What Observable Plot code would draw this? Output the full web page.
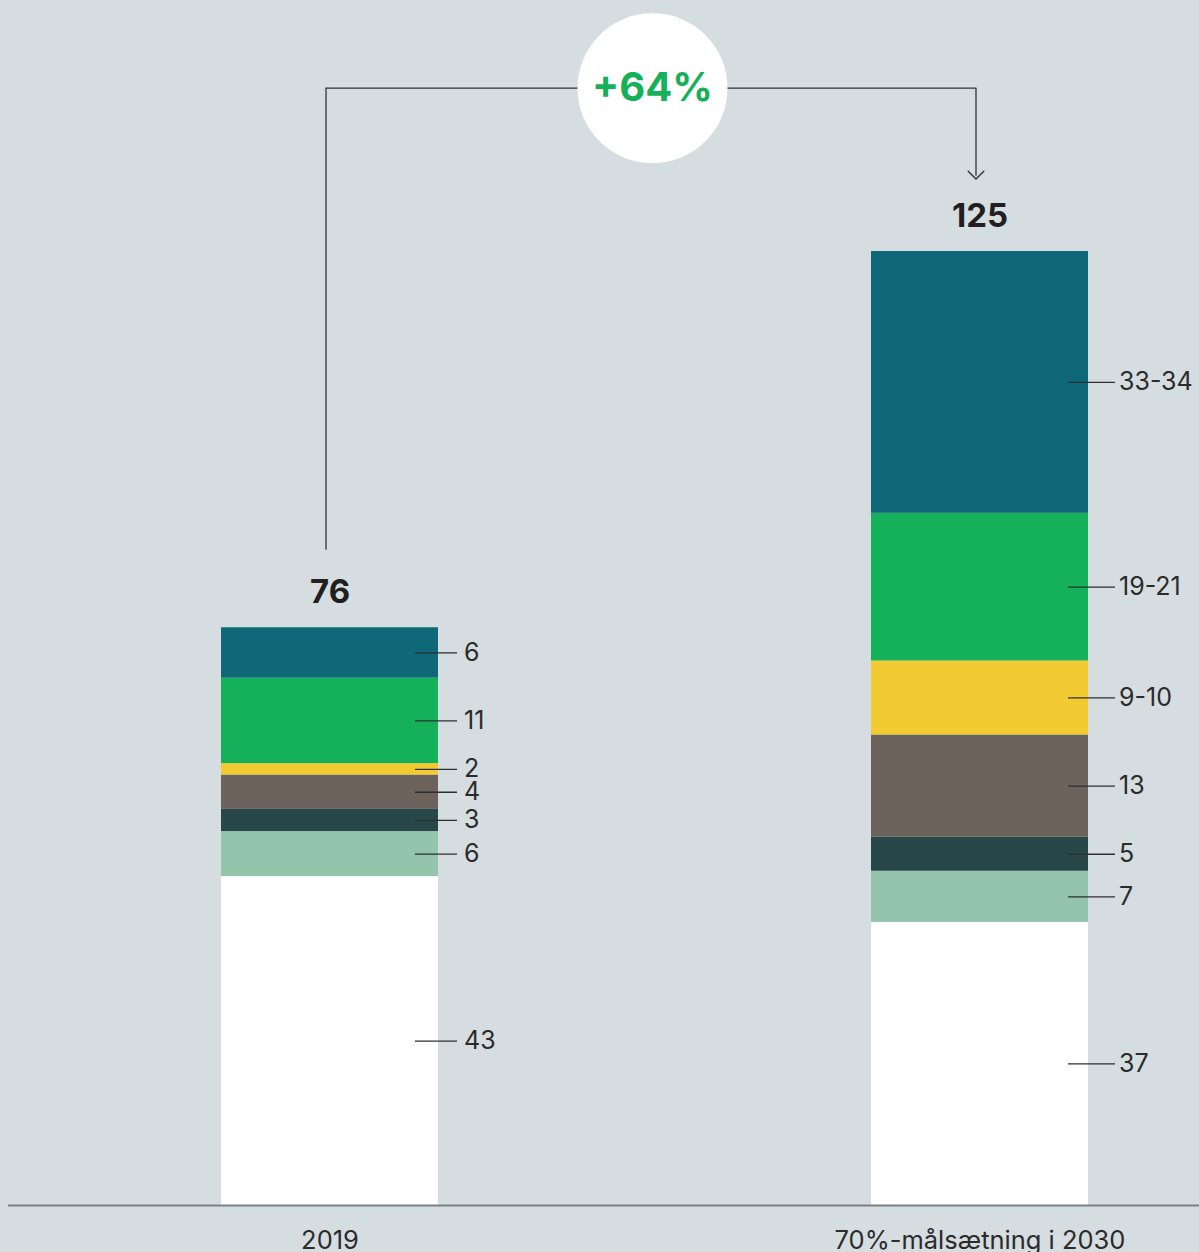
<!DOCTYPE html>
<html><head><meta charset="utf-8">
<script src="https://cdn.jsdelivr.net/npm/d3@7"></script>
<script src="https://cdn.jsdelivr.net/npm/@observablehq/plot@0.6"></script>
<style>html,body{margin:0;padding:0;background:#d5dde1;} svg{display:block}</style>
</head><body><div id="chart"></div>
<script>
// categories (bars) and stacked segments, bottom to top
const bars = ["2019", "70%-målsætning i 2030"];
const segments = ["seg1", "seg2", "seg3", "seg4", "seg5", "seg6", "seg7"];
const segColors = ["#ffffff", "#94c4ab", "#28474b", "#6c635c", "#f2cb32", "#15b15a", "#0f6877"];
const values2019 = [43.1, 5.9, 2.9, 4.5, 1.5, 11.2, 6.6];
const values2030 = [37.1, 6.7, 4.45, 13.4, 9.7, 19.35, 34.3];
const labels2019 = ["43", "6", "3", "4", "2", "11", "6"];
const labels2030 = ["37", "7", "5", "13", "9-10", "19-21", "33-34"];
const totals = [76, 125];

const W = 1199, H = 1252, MB = 47;
const values = [values2019, values2030];
const labels = [labels2019, labels2030];
const data = bars.flatMap((b, bi) => segments.map((s, si) => ({bar: b, seg: s, value: values[bi][si], label: labels[bi][si]})));
const tops = bars.map((b, bi) => ({bar: b, top: d3.sum(values[bi]), total: String(totals[bi])}));

const change = Math.round((totals[1] / totals[0] - 1) * 100);
const gap = 10;          // bracket gap above bar totals (units)
const bracketLevel = 146.4;
const bracket = [
  {bar: bars[0], y: totals[0] + gap},
  {bar: bars[0], y: bracketLevel},
  {bar: bars[1], y: bracketLevel},
  {bar: bars[1], y: totals[1] + gap}
];

// leader line / label horizontal placement per bar (pixels)
const leader = [{inset: 175, dx: 19, tdx: 134}, {inset: 170, dx: 27, tdx: 139}];

const labelMarks = bars.flatMap((b, bi) => {
  const sub = data.filter(d => d.bar === b);
  const L = leader[bi];
  return [
    Plot.tickY(sub, Plot.stackY({x: "bar", y: "value", stroke: "#2e2e2e", strokeWidth: 1.3, insetLeft: L.inset, insetRight: 0, dx: L.dx})),
    Plot.text(sub, Plot.stackY({x: "bar", y: "value", text: "label", textAnchor: "start", dx: L.tdx, fontSize: 25, fill: "#2b2b2b"}))
  ];
});

const chart = Plot.plot({
  width: W, height: H,
  marginLeft: 8, marginRight: 0, marginTop: 0, marginBottom: MB,
  style: {fontFamily: "Inter, 'Noto Sans', sans-serif", background: "#d5dde1", color: "#2b2b2b"},
  x: {domain: bars, range: [221, 1088], paddingInner: 0.6662, paddingOuter: 0, axis: null},
  y: {domain: [0, 125], range: [H - MB, 251], axis: null},
  color: {domain: segments, range: segColors},
  marks: [
    Plot.barY(data, {x: "bar", y: "value", fill: "seg"}),
    Plot.ruleY([0], {stroke: "#7a8084", strokeWidth: 2}),
    ...labelMarks,
    Plot.text(tops, {x: "bar", y: "top", text: "total", dy: -35, fontSize: 33, fontWeight: 700, fill: "#231f20"}),
    Plot.text(bars, {x: d => d, y: () => 0, text: d => d, dy: 35, fontSize: 25.5, fill: "#2b2b2b"}),
    Plot.line(bracket, {x: "bar", y: "y", dx: -4, stroke: "#333", strokeWidth: 1.3, markerEnd: "arrow"}),
    Plot.dot([bars[0]], {x: d => d, y: () => bracketLevel, r: 75, fill: "#ffffff", dx: 322.5}),
    Plot.text([bars[0]], {x: d => d, y: () => bracketLevel, text: () => `+${change}%`, dx: 322.5, fontSize: 40, fontWeight: 700, fill: "#17b05a"})
  ]
});
chart.querySelectorAll("marker").forEach(m => {
  m.setAttribute("markerWidth", 20);
  m.setAttribute("markerHeight", 20);
  m.setAttribute("stroke-width", 0.55);
});
document.getElementById("chart").appendChild(chart);
</script>
</body></html>
